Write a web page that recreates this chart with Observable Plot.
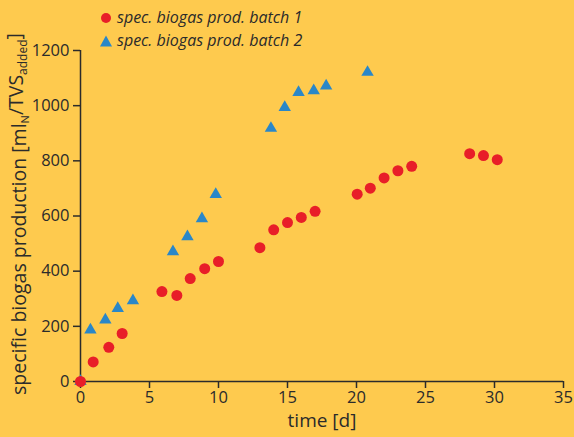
<!DOCTYPE html>
<html><head><meta charset="utf-8">
<script src="https://cdn.jsdelivr.net/npm/d3@7"></script>
<script src="https://cdn.jsdelivr.net/npm/@observablehq/plot@0.6"></script>
<style>
html,body{margin:0;padding:0;background:#FECA4E;}
#wrap{position:relative;width:574px;height:437px;font-family:"Open Sans",sans-serif;}
#legend{position:absolute;left:100px;top:6px;font-style:italic;font-size:16px;color:#2b2b2b;line-height:23px;}
#legend .row{display:flex;align-items:center;white-space:nowrap;}
#legend svg{margin-right:5px;}
</style>
</head><body>
<div id="wrap">
<div id="plot"></div>
<div id="legend"></div>
</div>
<script>
const seriesNames = ["spec. biogas prod. batch 1", "spec. biogas prod. batch 2"];
const days1 = [0, 0.92, 2.05, 3.02, 5.9, 6.98, 7.95, 9.0, 10.0, 13.0, 14.0, 15.0, 16.0, 17.0, 20.05, 21.0, 22.0, 23.0, 24.0, 28.2, 29.2, 30.2];
const batch1 = [0, 71, 124, 174, 326, 312, 373, 409, 435, 485, 550, 576, 595, 617, 679, 701, 738, 764, 780, 826, 819, 804];
const days2 = [0, 0.72, 1.8, 2.7, 3.8, 6.7, 7.75, 8.8, 9.8, 13.8, 14.8, 15.8, 16.9, 17.8, 20.8];
const batch2 = [0, 187, 223, 265, 293, 471, 525, 590, 678, 918, 994, 1048, 1054, 1072, 1121];
const xTicks = [0, 5, 10, 15, 20, 25, 30, 35];
const yTicks = [0, 200, 400, 600, 800, 1000, 1200];

const red = "#E81E28", blue = "#2A87C8", ink = "#2b2b2b";
const d1 = days1.map((d, i) => ({day: d, v: batch1[i]}));
const d2 = days2.map((d, i) => ({day: d, v: batch2[i]}));

const chart = Plot.plot({
  width: 574, height: 437,
  marginLeft: 80, marginRight: 11, marginTop: 50, marginBottom: 56,
  style: {background: "transparent", fontFamily: "'Open Sans', sans-serif", color: ink, overflow: "visible"},
  x: {domain: [0, 35]},
  y: {domain: [0, 1200]},
  marks: [
    Plot.axisY({ticks: yTicks, tickFormat: d => String(d), tickSize: 7, tickPadding: 4, fontSize: 16.5, label: null, stroke: ink, strokeWidth: 1.5}),
    Plot.axisX({ticks: xTicks, tickFormat: d => String(d), tickSize: 7, tickPadding: 3, fontSize: 16.5, label: null, stroke: ink, strokeWidth: 1.5}),
    Plot.ruleX([0], {stroke: ink, strokeWidth: 1.5}),
    Plot.ruleY([0], {stroke: ink, strokeWidth: 1.5}),
    Plot.text(["time [d]"], {frameAnchor: "bottom", dy: 45, fontSize: 19, fill: ink}),
    Plot.dot(d2, {x: "day", y: "v", symbol: "triangle", r: 4.6, fill: blue, stroke: "none"}),
    Plot.dot(d1, {x: "day", y: "v", symbol: "circle", r: 5.5, fill: red, stroke: "none"})
  ]
});
document.getElementById("plot").appendChild(chart);

// y-axis label with subscripts
const svg = d3.select(chart);
const lbl = svg.append("text")
  .attr("transform", "translate(26,214) rotate(-90)")
  .attr("text-anchor", "middle")
  .attr("fill", ink)
  .style("font-size", "19.5px")
  .style("font-family", "'Open Sans', sans-serif");
lbl.append("tspan").text("specific biogas production [ml");
lbl.append("tspan").attr("dy", "0.3em").style("font-size", "11px").text("N");
lbl.append("tspan").attr("dy", "-0.3em").text("/TVS");
lbl.append("tspan").attr("dy", "0.3em").style("font-size", "12px").text("added");
lbl.append("tspan").attr("dy", "-0.3em").text("]");

// legend
const legend = d3.select("#legend");
seriesNames.forEach((name, i) => {
  const row = legend.append("div").attr("class", "row");
  const s = row.append("svg").attr("width", 12).attr("height", 12);
  if (i === 0) s.append("circle").attr("cx", 6).attr("cy", 6).attr("r", 5).attr("fill", red);
  else s.append("path").attr("d", "M6,0.5L12,11.5L0,11.5Z").attr("fill", blue);
  row.append("span").text(name);
});
</script>
</body></html>
